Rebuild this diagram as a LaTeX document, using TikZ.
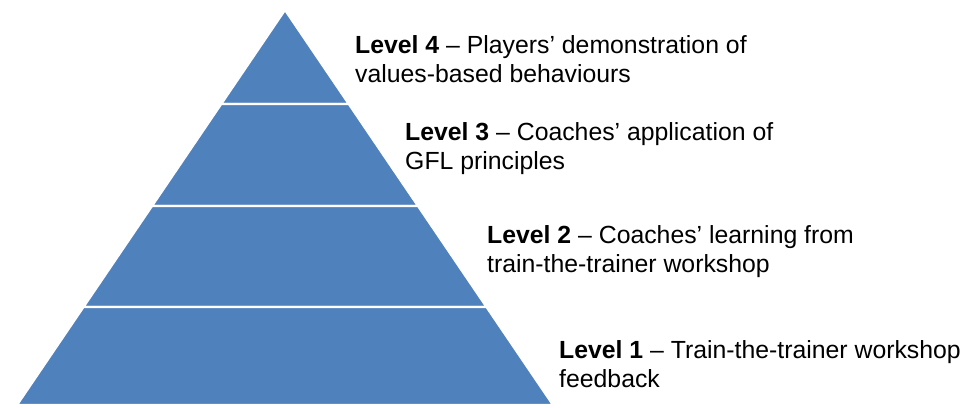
\documentclass[tikz,border=0pt]{standalone}
\usepackage{fontspec}
\setmainfont{Liberation Sans}
\usepackage{tikz}
\usetikzlibrary{calc}

\definecolor{pyrblue}{HTML}{4F81BD}

\begin{document}
\begin{tikzpicture}[x=1pt,y=-1pt,
  band/.style={fill=pyrblue,draw=white,line width=2.2pt,line join=miter},
  lvl/.style={anchor=base west,inner sep=0pt,align=left,font=\fontsize{24.8}{29}\selectfont}]
  \useasboundingbox (0,0) rectangle (960,407);

  % vertici della piramide
  \coordinate (apex) at (285,10);
  \coordinate (bl) at (17,405);
  \coordinate (br) at (553,405);

  % contorno chiaro
  \draw[gray!25,line width=1pt] (apex) -- (bl) -- (br) -- cycle;

  % fasce
  \foreach \t/\u in {0/0.238,0.238/0.496,0.496/0.752,0.752/1}{
    \filldraw[band] ($(apex)!\t!(bl)$) -- ($(apex)!\u!(bl)$)
      -- ($(apex)!\u!(br)$) -- ($(apex)!\t!(br)$) -- cycle;
  }

  % etichette (base = ultima riga)
  \node[lvl] (l4) at (355,82) {\textbf{Level 4} -- Players’ demonstration of\\values-based behaviours};
  \node[lvl] (l3) at (405,169) {\textbf{Level 3} -- Coaches’ application of\\GFL principles};
  \node[lvl] (l2) at (487,272) {\textbf{Level 2} -- Coaches’ learning from\\train-the-trainer workshop};
  \node[lvl] (l1) at (559,387) {\textbf{Level 1} -- Train-the-trainer workshop\\feedback};
\end{tikzpicture}
\end{document}
